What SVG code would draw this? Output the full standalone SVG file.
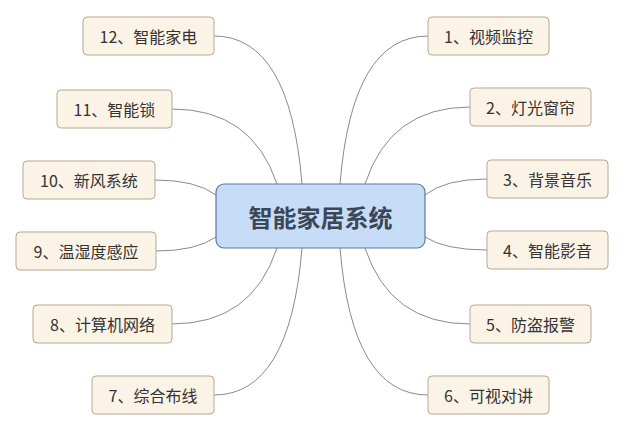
<svg xmlns="http://www.w3.org/2000/svg" width="625" height="432" viewBox="0 0 625 432">
<style>
.n rect{fill:#fcf3e7;stroke:#b5a893;stroke-width:1}
.n text{font-family:"Noto Sans CJK SC","Liberation Sans",sans-serif;font-size:16px;fill:#333;text-anchor:middle;dominant-baseline:central}
#conn path{fill:none;stroke:#8a8a8a;stroke-width:1}
</style>
<rect width="625" height="432" fill="#fff"/>
<g id="conn">
<path d="M340 184 Q352 36 428 36"/>
<path d="M365 184 Q390 107 470 107"/>
<path d="M425 195 Q445 179 487 179"/>
<path d="M425 237 Q445 250 487 250"/>
<path d="M365 248 Q390 324 470 324"/>
<path d="M340 248 Q352 395 428 395"/>
<path d="M302 184 Q290 36 214 36"/>
<path d="M277 184 Q252 109 172 109"/>
<path d="M216 195 Q196 180 155 180"/>
<path d="M216 237 Q196 251 156 251"/>
<path d="M277 248 Q252 324 172 324"/>
<path d="M302 248 Q290 395 214 395"/>
</g>
<g id="center"><rect x="216" y="184" width="209" height="64" rx="8" fill="#c6dcf7" stroke="#5a7aa6" stroke-width="1.2"/>
<text x="320.5" y="216" font-family="Noto Sans CJK SC,sans-serif" font-size="24" font-weight="bold" fill="#3b4656" text-anchor="middle" dominant-baseline="central">智能家居系统</text></g>
<g id="n1" class="n"><rect x="428" y="17" width="121" height="38" rx="4"/><text x="488.5" y="36">1、视频监控</text></g>
<g id="n2" class="n"><rect x="470" y="88" width="121" height="38" rx="4"/><text x="530.5" y="107">2、灯光窗帘</text></g>
<g id="n3" class="n"><rect x="487" y="160" width="121" height="38" rx="4"/><text x="547.5" y="179">3、背景音乐</text></g>
<g id="n4" class="n"><rect x="487" y="231" width="121" height="38" rx="4"/><text x="547.5" y="250">4、智能影音</text></g>
<g id="n5" class="n"><rect x="470" y="305" width="121" height="38" rx="4"/><text x="530.5" y="324">5、防盗报警</text></g>
<g id="n6" class="n"><rect x="428" y="376" width="121" height="38" rx="4"/><text x="488.5" y="395">6、可视对讲</text></g>
<g id="n12" class="n"><rect x="83" y="17" width="131" height="38" rx="4"/><text x="148.5" y="36">12、智能家电</text></g>
<g id="n11" class="n"><rect x="57" y="90" width="115" height="38" rx="4"/><text x="114.5" y="109">11、智能锁</text></g>
<g id="n10" class="n"><rect x="23" y="161" width="132" height="38" rx="4"/><text x="89" y="180">10、新风系统</text></g>
<g id="n9" class="n"><rect x="16" y="232" width="140" height="38" rx="4"/><text x="86" y="251">9、温湿度感应</text></g>
<g id="n8" class="n"><rect x="33" y="305" width="139" height="38" rx="4"/><text x="102.5" y="324">8、计算机网络</text></g>
<g id="n7" class="n"><rect x="92" y="376" width="122" height="38" rx="4"/><text x="153" y="395">7、综合布线</text></g>
</svg>
